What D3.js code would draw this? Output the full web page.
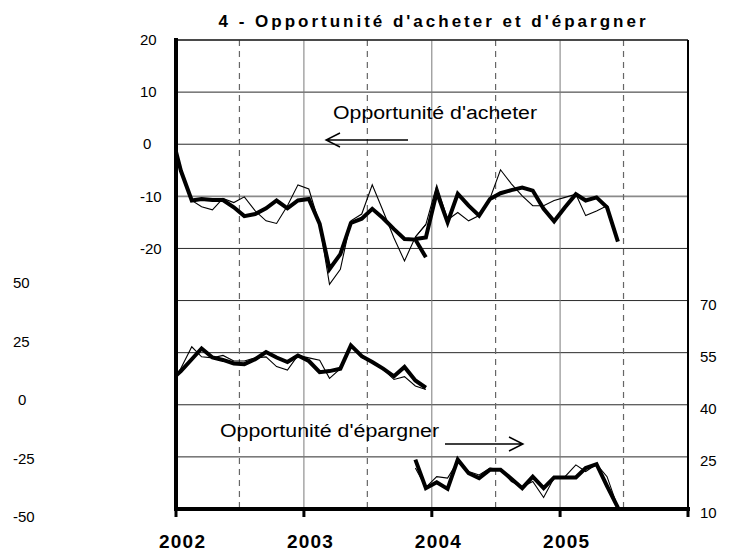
<!DOCTYPE html>
<html>
<head>
<meta charset="utf-8">
<script src="https://cdn.jsdelivr.net/npm/d3@7"></script>
<style>
  body { margin: 0; background: #fff; }
  text { font-family: Arial, "Liberation Sans", sans-serif; fill: #000; }
</style>
</head>
<body>
<div id="chart"></div>
<script>
// monthly series, first month of each block given below
var startA = [2001, 11];   // Dec 2001 (first point sits left of the axis and is clipped)
var startB = [2003, 10];   // Nov 2003

// Opportunité d'acheter (left axis)
var acheterThickA = [3, -5.1, -10.8, -10.5, -10.7, -10.7, -12.1, -13.8, -13.4, -12.3, -10.8, -12.3, -10.8,
                     -10.5, -15.3, -24, -21.1, -15.1, -14.3, -12.4, -14.2, -16.3, -18.2, -18.3, -21.7];
var acheterThinA  = [3, -5.1, -10.8, -12.0, -12.6, -10.4, -11.2, -10.1, -12.8, -14.7, -15.2, -11.8, -7.8,
                     -8.6, -15.5, -26.9, -24, -14.7, -13.4, -7.8, -12.8, -18, -22.4, -17.8, -15.4];
var acheterThickB = [-18.2, -17.9, -9.2, -15, -9.5, -11.8, -13.7, -10.5, -9.4, -8.8, -8.3, -8.9,
                     -12.4, -14.8, -12.1, -9.6, -10.8, -10.2, -12.1, -18.7];
var acheterThinB  = [-17.8, -15.4, -7.9, -14.5, -13.1, -14.7, -13.7, -10.4, -4.9, -7.6, -9.9, -11.8,
                     -11.8, -10.8, -10.2, -9.6, -13.7, -12.8, -11.8, -18.3];

// Opportunité d'épargner (right axis)
var epargnerThickA = [46.8, 49.7, 53.1, 56.2, 53.6, 52.9, 51.9, 51.7, 53.1, 55.2, 53.6, 52.3, 54.2,
                      52.6, 49.4, 49.7, 50.4, 57.1, 54, 52.3, 50.4, 48.2, 50.9, 47, 44.9];
var epargnerThinA  = [45.3, 50.5, 56.7, 53.8, 53.5, 54.2, 52.6, 52.6, 53.5, 53.8, 51, 50, 54.2,
                      53.5, 52.8, 47.6, 50.4, 57, 53.6, 52.3, 50.2, 47.3, 48.1, 45.4, 44.4];
var epargnerThickB = [24.2, 16.0, 17.7, 15.8, 24.2, 20.3, 18.9, 21.3, 21.3, 18.7, 16.0, 19.3,
                      16.0, 19.1, 19.1, 19.1, 21.8, 22.9, 16.6, 10.4];
var epargnerThinB  = [21.8, 16.2, 19.3, 18.9, 23.7, 20.8, 19.8, 21.8, 21.3, 17.9, 16.4, 17.9,
                      13.3, 19.0, 19.3, 22.7, 20.8, 22.9, 19.3, 10.4];

var years = [2002, 2003, 2004, 2005];
var leftTicks = [20, 10, 0, -10, -20];
var leftLowTicks = [50, 25, 0, -25, -50];
var rightTicks = [70, 55, 40, 25, 10];

var width = 734, height = 555;
var plot = {left: 176, right: 688, top: 40, bottom: 509};

var svg = d3.select("#chart").append("svg")
    .attr("width", width)
    .attr("height", height);

var x = d3.scaleTime()
    .domain([new Date(2002, 0, 1), new Date(2006, 0, 1)])
    .range([plot.left, plot.right]);
var yLeft = d3.scaleLinear().domain([-70, 20]).range([plot.bottom, plot.top]);
var yRight = d3.scaleLinear().domain([10, 145]).range([plot.bottom, plot.top]);
var yLowLabels = d3.scaleLinear().domain([-50, 50]).range([517, 283]);

function months(start, n) {
    return d3.range(n).map(function(i) { return new Date(start[0], start[1] + i, 15); });
}
function pairs(start, vals) {
    var d = months(start, vals.length);
    return vals.map(function(v, i) { return [d[i], v]; });
}

svg.append("clipPath").attr("id", "clip")
  .append("rect")
    .attr("x", plot.left).attr("y", plot.top)
    .attr("width", plot.right - plot.left).attr("height", plot.bottom - plot.top);

// horizontal grid
svg.append("g").selectAll("line")
    .data(d3.range(-70, 21, 10))
    .enter().append("line")
    .attr("x1", plot.left).attr("x2", plot.right)
    .attr("y1", function(d) { return yLeft(d); })
    .attr("y2", function(d) { return yLeft(d); })
    .attr("stroke", function(d) { return d == -10 ? "#8a8a8a" : "#2a2a2a"; })
    .attr("stroke-width", function(d) { return d == -10 ? 1.6 : 1; });

// vertical grid: solid at each year, dashed at mid-year
svg.append("g").selectAll("line")
    .data([2003, 2004, 2005])
    .enter().append("line")
    .attr("x1", function(d) { return x(new Date(d, 0, 1)); })
    .attr("x2", function(d) { return x(new Date(d, 0, 1)); })
    .attr("y1", plot.top).attr("y2", plot.bottom)
    .attr("stroke", "#7a7a7a").attr("stroke-width", 1);

svg.append("g").selectAll("line")
    .data([2002, 2003, 2004, 2005])
    .enter().append("line")
    .attr("x1", function(d) { return x(new Date(d, 6, 1)); })
    .attr("x2", function(d) { return x(new Date(d, 6, 1)); })
    .attr("y1", plot.top).attr("y2", plot.bottom)
    .attr("stroke", "#666").attr("stroke-width", 1.2)
    .attr("stroke-dasharray", "6,5");

// series
var lineL = d3.line().x(function(d) { return x(d[0]); }).y(function(d) { return yLeft(d[1]); });
var lineR = d3.line().x(function(d) { return x(d[0]); }).y(function(d) { return yRight(d[1]); });

var series = [
    {data: pairs(startA, acheterThinA), line: lineL, w: 1.1},
    {data: pairs(startB, acheterThinB), line: lineL, w: 1.1},
    {data: pairs(startA, epargnerThinA), line: lineR, w: 1.1},
    {data: pairs(startB, epargnerThinB), line: lineR, w: 1.1},
    {data: pairs(startA, acheterThickA), line: lineL, w: 4},
    {data: pairs(startB, acheterThickB), line: lineL, w: 4},
    {data: pairs(startA, epargnerThickA), line: lineR, w: 4},
    {data: pairs(startB, epargnerThickB), line: lineR, w: 4}
];

svg.append("g").attr("clip-path", "url(#clip)")
  .selectAll("path")
    .data(series)
    .enter().append("path")
    .attr("d", function(s) { return s.line(s.data); })
    .attr("fill", "none")
    .attr("stroke", "#000")
    .attr("stroke-width", function(s) { return s.w; })
    .attr("stroke-linejoin", "miter");

// frame
svg.append("line").attr("x1", plot.left).attr("x2", plot.right)
    .attr("y1", plot.top).attr("y2", plot.top)
    .attr("stroke", "#000").attr("stroke-width", 1.2);
svg.append("line").attr("x1", plot.right).attr("x2", plot.right)
    .attr("y1", plot.top).attr("y2", plot.bottom)
    .attr("stroke", "#000").attr("stroke-width", 2);
svg.append("line").attr("x1", plot.left).attr("x2", plot.left)
    .attr("y1", plot.top - 2).attr("y2", plot.bottom + 2)
    .attr("stroke", "#000").attr("stroke-width", 4);
svg.append("line").attr("x1", plot.left - 2).attr("x2", plot.right + 2)
    .attr("y1", plot.bottom).attr("y2", plot.bottom)
    .attr("stroke", "#000").attr("stroke-width", 4);

// year ticks
svg.append("g").selectAll("line")
    .data([2002, 2003, 2004, 2005, 2006])
    .enter().append("line")
    .attr("x1", function(d) { return x(new Date(d, 0, 1)); })
    .attr("x2", function(d) { return x(new Date(d, 0, 1)); })
    .attr("y1", plot.bottom).attr("y2", plot.bottom + 8)
    .attr("stroke", "#000").attr("stroke-width", 3);

// year labels
svg.append("g").selectAll("text")
    .data(years)
    .enter().append("text")
    .attr("x", function(d) { return x(new Date(d, 0, 1)) + 6; })
    .attr("y", 548)
    .attr("text-anchor", "middle")
    .style("font-size", "19px").style("font-weight", "bold")
    .attr("textLength", 46).attr("lengthAdjust", "spacing")
    .text(function(d) { return d; });

// left axis labels (upper block)
svg.append("g").selectAll("text")
    .data(leftTicks)
    .enter().append("text")
    .attr("x", function(d) { return d == 0 ? 143 : 140; })
    .attr("y", function(d) { return yLeft(d); })
    .attr("dy", "0.35em")
    .style("font-size", "15px")
    .text(function(d) { return d; });

// left labels (lower block)
svg.append("g").selectAll("text")
    .data(leftLowTicks)
    .enter().append("text")
    .attr("x", function(d) { return d == 0 ? 18 : 13; })
    .attr("y", function(d) { return yLowLabels(d); })
    .attr("dy", "0.35em")
    .style("font-size", "15px")
    .text(function(d) { return d; });

// right axis labels
svg.append("g").selectAll("text")
    .data(rightTicks)
    .enter().append("text")
    .attr("x", 700)
    .attr("y", function(d) { return yRight(d) + 4; })
    .attr("dy", "0.35em")
    .style("font-size", "15px")
    .text(function(d) { return d; });

// title
svg.append("text")
    .attr("x", 432).attr("y", 27)
    .attr("text-anchor", "middle")
    .style("font-size", "17px").style("font-weight", "bold")
    .attr("textLength", 427).attr("lengthAdjust", "spacing")
    .text("4 - Opportunité d'acheter et d'épargner");

// annotations
svg.append("text")
    .attr("x", 333).attr("y", 119)
    .style("font-size", "18px")
    .attr("textLength", 204).attr("lengthAdjust", "spacingAndGlyphs")
    .text("Opportunité d'acheter");
svg.append("path")
    .attr("d", "M408,140H326M340,133L326,140L340,147")
    .attr("fill", "none").attr("stroke", "#000").attr("stroke-width", 1.4);

svg.append("text")
    .attr("x", 220).attr("y", 437)
    .style("font-size", "18px")
    .attr("textLength", 219).attr("lengthAdjust", "spacingAndGlyphs")
    .text("Opportunité d'épargner");
svg.append("path")
    .attr("d", "M445,444H523M509,437L523,444L509,451")
    .attr("fill", "none").attr("stroke", "#000").attr("stroke-width", 1.4);
</script>
</body>
</html>
